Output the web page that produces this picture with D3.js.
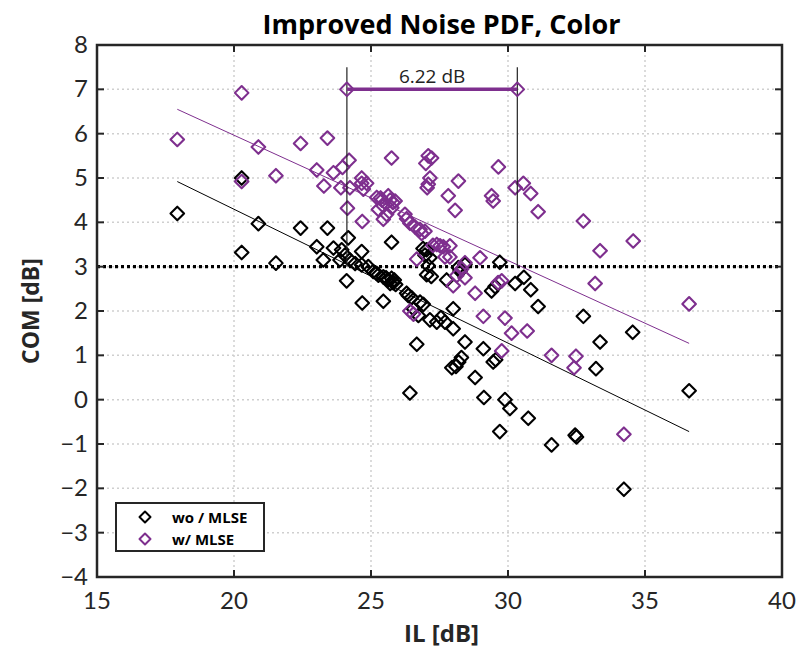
<!DOCTYPE html>
<html><head><meta charset="utf-8">
<script src="https://cdn.jsdelivr.net/npm/d3@7"></script>
<style>body{margin:0;background:#fff}</style>
</head><body><svg id="c" width="799" height="650"></svg>
<script>
const title = "Improved Noise PDF, Color";
const xLabel = "IL [dB]";
const yLabel = "COM [dB]";
const xTicks = [15, 20, 25, 30, 35, 40];
const yTicks = [-4, -3, -2, -1, 0, 1, 2, 3, 4, 5, 6, 7, 8];
const seriesNames = ["wo / MLSE", "w/ MLSE"];

// wo / MLSE (black)
const woMLSE = [
 [17.93,4.2],[20.28,5.0],[20.28,3.32],[20.89,3.97],[21.53,3.08],[22.43,3.87],[23.41,3.87],
 [23.02,3.45],[23.63,3.42],[23.26,3.15],[24.17,3.65],[23.93,3.38],[24.05,3.26],[23.87,3.15],
 [24.23,3.15],[24.42,3.07],[24.66,3.34],[24.66,3.04],[24.9,3.0],[25.08,2.89],[25.27,2.81],
 [25.45,2.77],[25.63,2.7],[25.81,2.64],[25.75,2.74],[25.9,2.6],[25.7,2.62],[25.85,2.7],
 [25.55,2.75],[25.2,2.85],[24.11,2.68],[24.68,2.18],
 [25.45,2.22],[25.75,3.55],[26.3,2.4],[26.36,2.35],[26.48,2.3],[26.79,2.2],[26.91,2.15],
 [26.55,2.05],[26.73,1.9],[27.15,1.8],[27.4,1.75],[27.55,1.85],[27.7,1.75],[28.0,1.6],
 [28.0,2.05],[28.43,1.3],[26.67,1.25],[29.1,1.15],[28.3,0.95],[28.2,0.85],[28.1,0.75],
 [27.95,0.72],[29.46,0.85],[29.55,0.9],[28.8,0.5],[26.42,0.15],[29.12,0.05],[29.89,0.0],
 [30.07,-0.2],[30.74,-0.42],[29.7,-0.72],[31.59,-1.02],[32.45,-0.8],[32.5,-0.84],[34.23,-2.02],
 [36.61,0.2],[33.21,0.7],[34.55,1.52],[33.36,1.3],[32.75,1.88],[31.1,2.1],[30.83,2.48],
 [30.58,2.76],[30.26,2.62],[29.53,2.55],[29.4,2.45],[29.7,3.1],[28.43,3.05],[27.03,3.38],
 [26.97,3.26],[27.15,3.2],[27.09,3.02],[27.03,2.82],[27.2,2.78],[28.19,2.98],[28.25,2.9],
 [27.76,2.7],[26.9,3.41]
];

// w/ MLSE (purple)
const wMLSE = [
 [17.93,5.87],[20.28,6.92],[20.28,4.92],[20.89,5.7],[21.53,5.05],[22.43,5.78],[23.41,5.9],
 [23.02,5.18],[23.63,5.12],[23.96,5.24],[24.2,5.4],[23.28,4.82],[23.9,4.78],[24.23,4.78],
 [24.66,5.0],[24.72,4.75],[24.14,4.32],[24.68,4.02],[24.66,4.88],[24.84,4.88],[25.21,4.56],
 [25.63,4.6],[25.88,4.48],[25.45,4.37],[25.76,4.33],[25.57,4.18],[25.27,4.29],[25.4,4.5],
 [25.8,4.45],[25.35,4.55],[25.7,4.5],[25.45,4.07],[26.24,4.18],[26.3,4.08],[26.42,3.98],[26.6,3.9],[26.79,3.84],
 [26.97,3.8],[26.85,3.75],[25.75,5.45],[27.09,5.5],[27.21,5.45],[27.0,5.33],[29.65,5.25],
 [27.15,5.0],[27.09,4.86],[27.05,4.78],[28.19,4.93],[27.82,4.6],[28.07,4.27],[29.4,4.6],
 [29.46,4.48],[30.26,4.78],[30.56,4.88],[30.83,4.65],[31.1,4.24],[32.75,4.03],[34.57,3.58],
 [33.36,3.36],[33.18,2.62],[36.61,2.16],[29.77,2.68],[29.89,1.84],[30.13,1.5],[30.7,1.55],
 [29.77,1.1],[31.59,1.0],[32.48,0.98],[32.41,0.72],[34.23,-0.78],[27.4,3.5],[27.52,3.47],
 [27.26,3.48],[27.64,3.45],[27.88,3.47],[27.88,3.22],[26.67,3.17],[28.98,3.2],[28.43,3.09],
 [28.31,2.95],[28.13,2.8],[28.43,2.75],[28.0,2.57],[29.64,2.64],[28.8,2.4],[26.42,2.0],
 [26.55,1.93],[29.1,1.88],[27.7,3.22]
];

// linear fits (end points)
const fitX = [17.93, 36.61];
const woFit = [4.92, -0.72];
const wFit = [6.55, 1.27];

// threshold and annotation
const thresholdY = 3;
const gapX = [24.12, 30.34];
const gapY = 7;
const gapTop = 7.5;
const gapLabel = "6.22 dB";

const purple = "#7E2F8E";
const black = "#000";
const frame = "#262626";

const svg = d3.select("#c");
const L = 97, R = 782, T = 45, B = 577;
const x = d3.scaleLinear().domain([15, 40]).range([L, R]);
const y = d3.scaleLinear().domain([-4, 8]).range([B, T]);

// grid
const g = svg.append("g");
g.selectAll(".gx").data(xTicks.slice(1, -1)).enter().append("line")
 .attr("x1", d => x(d)).attr("x2", d => x(d)).attr("y1", T).attr("y2", B)
 .attr("stroke", "#cfcfcf").attr("stroke-width", 1.5).attr("stroke-dasharray", "2,3");
g.selectAll(".gy").data(yTicks.slice(1, -1)).enter().append("line")
 .attr("y1", d => y(d)).attr("y2", d => y(d)).attr("x1", L).attr("x2", R)
 .attr("stroke", "#cfcfcf").attr("stroke-width", 1.5).attr("stroke-dasharray", "2,3");

// threshold line
svg.append("line").attr("x1", L).attr("x2", R).attr("y1", y(thresholdY)).attr("y2", y(thresholdY))
 .attr("stroke", "#000").attr("stroke-width", 3.2).attr("stroke-dasharray", "3,3");

// fit lines
const line = d3.line().x(d => x(d[0])).y(d => y(d[1]));
svg.append("path").datum(fitX.map((v, i) => [v, woFit[i]])).attr("d", line)
 .attr("stroke", black).attr("stroke-width", 1).attr("fill", "none");
svg.append("path").datum(fitX.map((v, i) => [v, wFit[i]])).attr("d", line)
 .attr("stroke", purple).attr("stroke-width", 1).attr("fill", "none");

const r = 6.8;
const diamond = `M0,${-r}L${r},0L0,${r}L${-r},0Z`;
function drawPts(data, col) {
  svg.append("g").selectAll("path").data(data).enter().append("path")
   .attr("d", diamond).attr("transform", d => `translate(${x(d[0])},${y(d[1])})`)
   .attr("fill", "none").attr("stroke", col).attr("stroke-width", 2.1).attr("stroke-linejoin", "round");
}
drawPts(woMLSE, black);
drawPts(wMLSE, purple);

// annotation
gapX.forEach(v => {
  svg.append("line").attr("x1", x(v)).attr("x2", x(v)).attr("y1", y(thresholdY)).attr("y2", y(gapTop))
   .attr("stroke", "#222").attr("stroke-width", 1.2);
});
svg.append("line").attr("x1", x(gapX[0])).attr("x2", x(gapX[1])).attr("y1", y(gapY)).attr("y2", y(gapY))
 .attr("stroke", purple).attr("stroke-width", 3.5);
svg.append("g").selectAll("path").data(gapX).enter().append("path")
 .attr("d", diamond).attr("transform", d => `translate(${x(d)},${y(gapY)})`)
 .attr("fill", "none").attr("stroke", purple).attr("stroke-width", 2).attr("stroke-linejoin", "round");
svg.append("text").attr("x", (x(gapX[0]) + x(gapX[1])) / 2).attr("y", y(gapY) - 6)
 .attr("text-anchor", "middle").attr("font-family", "'Open Sans', 'DejaVu Sans', sans-serif")
 .attr("font-size", 19).attr("fill", "#222").text(gapLabel);

// frame
svg.append("rect").attr("x", L).attr("y", T).attr("width", R - L).attr("height", B - T)
 .attr("fill", "none").attr("stroke", frame).attr("stroke-width", 2.5);

// ticks
const tl = 7;
xTicks.slice(1, -1).forEach(v => {
  svg.append("line").attr("x1", x(v)).attr("x2", x(v)).attr("y1", B).attr("y2", B - tl).attr("stroke", frame).attr("stroke-width", 2);
  svg.append("line").attr("x1", x(v)).attr("x2", x(v)).attr("y1", T).attr("y2", T + tl).attr("stroke", frame).attr("stroke-width", 2);
});
yTicks.slice(1, -1).forEach(v => {
  svg.append("line").attr("y1", y(v)).attr("y2", y(v)).attr("x1", L).attr("x2", L + tl).attr("stroke", frame).attr("stroke-width", 2);
  svg.append("line").attr("y1", y(v)).attr("y2", y(v)).attr("x1", R).attr("x2", R - tl).attr("stroke", frame).attr("stroke-width", 2);
});

const font = "'Lato', 'Liberation Sans', sans-serif";
const boldFont = "'Open Sans', 'Lato', sans-serif";
// tick labels
svg.append("g").selectAll("text").data(xTicks).enter().append("text")
 .attr("x", d => x(d)).attr("y", B + 32).attr("text-anchor", "middle")
 .attr("font-family", font).attr("font-size", 24).attr("fill", "#262626").text(d => d);
svg.append("g").selectAll("text").data(yTicks).enter().append("text")
 .attr("x", L - 9).attr("y", d => y(d) + 8).attr("text-anchor", "end")
 .attr("font-family", font).attr("font-size", 24).attr("fill", "#262626").text(d => d < 0 ? "\u2212" + Math.abs(d) : d);

// axis labels and title
svg.append("text").attr("x", (L + R) / 2 + 2).attr("y", 642).attr("text-anchor", "middle")
 .attr("font-family", boldFont).attr("font-weight", "bold").attr("font-size", 24).attr("fill", "#262626").text(xLabel);
svg.append("text").attr("transform", `translate(39,${(T + B) / 2}) rotate(-90)`).attr("text-anchor", "middle")
 .attr("font-family", boldFont).attr("font-weight", "bold").attr("font-size", 23).attr("fill", "#262626").text(yLabel);
svg.append("text").attr("x", (L + R) / 2 + 2).attr("y", 34).attr("text-anchor", "middle")
 .attr("font-family", boldFont).attr("font-weight", "bold").attr("font-size", 27).attr("fill", "#000").text(title);

// legend
const lg = svg.append("g");
lg.append("rect").attr("x", 116).attr("y", 503).attr("width", 148).attr("height", 48)
 .attr("fill", "#fff").attr("stroke", frame).attr("stroke-width", 2);
[[black, seriesNames[0]], [purple, seriesNames[1]]].forEach((s, i) => {
  const yy = 517 + i * 22;
  lg.append("path").attr("d", "M0,-5.5L5.5,0L0,5.5L-5.5,0Z").attr("transform", `translate(145,${yy})`)
   .attr("fill", "none").attr("stroke", s[0]).attr("stroke-width", 2).attr("stroke-linejoin", "round");
  lg.append("text").attr("x", 172).attr("y", yy + 6).attr("font-family", boldFont).attr("font-weight", "bold")
   .attr("font-size", 15).attr("fill", "#000").text(s[1]);
});
</script></body></html>
